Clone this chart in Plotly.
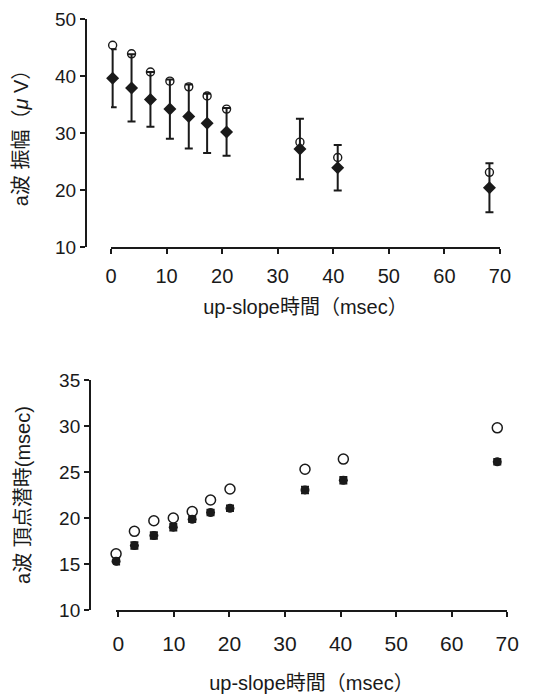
import plotly.graph_objects as go

# Top panel: a-wave amplitude
top_x = [0.3, 3.7, 7.1, 10.6, 14.0, 17.3, 20.8, 34.0, 40.8, 68.1]
top_mean = [39.6, 37.9, 35.9, 34.2, 32.9, 31.7, 30.2, 27.2, 23.9, 20.4]
top_err = [5.1, 5.9, 4.8, 5.2, 5.6, 5.2, 4.2, 5.3, 4.0, 4.3]
top_open = [45.4, 43.9, 40.7, 39.1, 38.1, 36.5, 34.2, 28.4, 25.7, 23.1]

# Bottom panel: a-wave peak latency
bot_x = [-0.4, 2.9, 6.4, 9.9, 13.3, 16.6, 20.1, 33.6, 40.5, 68.2]
bot_open = [16.1, 18.55, 19.7, 20.0, 20.7, 21.95, 23.15, 25.3, 26.4, 29.8]
bot_filled = [15.3, 17.0, 18.1, 19.0, 19.85, 20.6, 21.05, 23.05, 24.1, 26.1]
bot_err = [0.35, 0.35, 0.35, 0.35, 0.3, 0.3, 0.3, 0.35, 0.35, 0.3]

xticks = [0, 10, 20, 30, 40, 50, 60, 70]
top_yticks = [10, 20, 30, 40, 50]
bot_yticks = [10, 15, 20, 25, 30, 35]

FONT = "Liberation Sans, Arial, Noto Sans CJK JP"
INK = "#1a1a1a"

fig = go.Figure()

fig.add_trace(go.Scatter(
    x=top_x, y=top_mean, mode="markers",
    marker=dict(symbol="diamond", size=10, color=INK),
    error_y=dict(type="data", array=top_err, visible=True, color=INK, thickness=2, width=4),
    cliponaxis=False, xaxis="x", yaxis="y", showlegend=False))
fig.add_trace(go.Scatter(
    x=top_x, y=top_open, mode="markers",
    marker=dict(symbol="circle-open", size=8, color=INK, line=dict(width=1.4, color=INK)),
    cliponaxis=False, xaxis="x", yaxis="y", showlegend=False))

fig.add_trace(go.Scatter(
    x=bot_x, y=bot_filled, mode="markers",
    marker=dict(symbol="circle", size=9, color=INK),
    error_y=dict(type="data", array=bot_err, visible=True, color=INK, thickness=2, width=4),
    cliponaxis=False, xaxis="x2", yaxis="y2", showlegend=False))
fig.add_trace(go.Scatter(
    x=bot_x, y=bot_open, mode="markers",
    marker=dict(symbol="circle-open", size=10, color=INK, line=dict(width=1.5, color=INK)),
    cliponaxis=False, xaxis="x2", yaxis="y2", showlegend=False))

axis_common = dict(showgrid=False, zeroline=False, showline=True, linecolor=INK, linewidth=2,
                   ticks="outside", ticklen=5, tickwidth=1.5, tickcolor=INK, automargin=False)

fig.update_layout(
    width=540, height=694,
    margin=dict(l=0, r=0, t=0, b=0),
    paper_bgcolor="white", plot_bgcolor="white",
    font=dict(family=FONT, color=INK),
    xaxis=dict(domain=[0.1907, 0.9111], range=[0, 70], tickvals=xticks, anchor="y",
               tickfont=dict(size=20), ticklabelstandoff=5,
               title=dict(text="up-slope時間（msec）", font=dict(size=20), standoff=14),
               **axis_common),
    yaxis=dict(domain=[0.6556, 0.9841], range=[10, 50], tickvals=top_yticks, anchor="free",
               position=0.1444, tickfont=dict(size=19),
               title=dict(text="a波 振幅（<i>μ</i> V）", font=dict(size=20), standoff=20),
               **axis_common),
    xaxis2=dict(domain=[0.1991, 0.9246], range=[-0.5, 70], tickvals=xticks, anchor="y2",
                tickfont=dict(size=21), ticklabelstandoff=9,
                title=dict(text="up-slope時間（msec）", font=dict(size=20), standoff=22),
                **axis_common),
    yaxis2=dict(domain=[0.1326, 0.4640], range=[10, 35], tickvals=bot_yticks, anchor="free",
                position=0.1519, tickfont=dict(size=19),
                title=dict(text="a波 頂点潜時(msec)", font=dict(size=20), standoff=22),
                **axis_common),
)

fig.write_html("out.html")
